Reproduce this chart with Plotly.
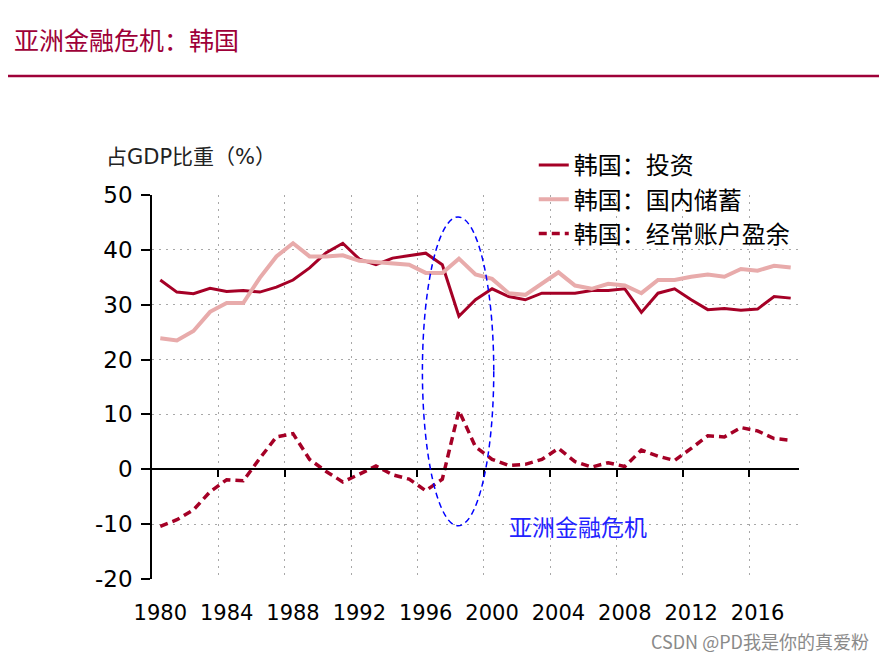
import plotly.graph_objects as go

years = list(range(1980, 2019))
investment = [34.5, 32.3, 32.0, 33.0, 32.4, 32.6, 32.3, 33.2, 34.5, 36.7,
              39.5, 41.2, 38.3, 37.3, 38.5, 39.0, 39.4, 37.3, 27.9, 30.9,
              32.9, 31.5, 30.9, 32.1, 32.1, 32.1, 32.6, 32.6, 32.9, 28.6,
              32.1, 32.9, 30.9, 29.1, 29.3, 29.0, 29.2, 31.5, 31.2]
saving = [23.9, 23.5, 25.2, 28.7, 30.3, 30.3, 34.9, 38.8, 41.2, 38.8,
          38.8, 39.0, 38.0, 37.8, 37.6, 37.3, 35.8, 35.8, 38.4, 35.5,
          34.7, 32.1, 31.8, 33.8, 35.9, 33.5, 32.9, 33.8, 33.5, 32.1,
          34.5, 34.5, 35.1, 35.5, 35.1, 36.5, 36.2, 37.1, 36.8]
current_account = [-10.4, -9.2, -7.4, -4.1, -1.9, -2.1, 2.0, 5.9, 6.5, 1.8,
                   -0.4, -2.3, -0.9, 0.6, -1.0, -1.8, -3.9, -1.8, 10.7, 4.1,
                   1.8, 0.7, 0.9, 1.8, 3.8, 1.4, 0.4, 1.2, 0.5, 3.5,
                   2.4, 1.6, 3.8, 6.1, 5.9, 7.6, 7.0, 5.6, 5.3]
label_years = list(range(1980, 2017, 4))
boundary_years = [y - 0.5 for y in range(1984, 2017, 4)]
series_names = ["韩国：投资", "韩国：国内储蓄", "韩国：经常账户盈余"]
y_ticks = list(range(-20, 51, 10))
y_tick_text = ["-20", "-10", "0", "10", "20", "30", "40", "50"]

DARK = "#A50026"
PINK = "#E8ABAB"
TITLE_C = "#9E0038"
CJK = "Noto Sans CJK SC"
LAT = "DejaVu Sans"
MIX = "DejaVu Sans, Noto Sans CJK SC"

# page body has an 8px margin; lay out in window pixels
OFF = 8
W, H = 887 - OFF, 664 - OFF
PL, PT, PR, PB = 152, 195, 799.4, 579          # plot box in window pixels
L, T = PL - OFF, PT - OFF
R, B = W - (PR - OFF), H - (PB - OFF)
pw, ph = PR - PL, PB - PT

def px(x):
    return (x - PL) / pw

def py(y):
    return (PB - y) / ph

fig = go.Figure()
fig.add_trace(go.Scatter(x=years, y=investment, name=series_names[0], mode="lines",
                         line=dict(color=DARK, width=3), legendgroup="a"))
fig.add_trace(go.Scatter(x=years, y=saving, name=series_names[1], mode="lines",
                         line=dict(color=PINK, width=4), legendgroup="b"))
fig.add_trace(go.Scatter(x=years, y=current_account, name=series_names[2], mode="lines",
                         line=dict(color=DARK, width=3.5, dash="8px,5px"), legendgroup="c",
                         xaxis="x2", yaxis="y"))

# the crisis ellipse (on data axes)
fig.add_shape(type="circle", xref="x", yref="y", x0=1995.8, x1=2000.1, y0=-10.3, y1=46,
              line=dict(color="#0000FF", width=1.5, dash="6px,4px"), layer="above")
fig.add_annotation(x=2005.2, y=-10.4, xref="x", yref="y", text="亚洲金融危机",
                   showarrow=False, font=dict(family=CJK, size=23, color="#2222FF"))

# title + rule
fig.add_annotation(x=px(12), y=py(39), xref="paper", yref="paper", xanchor="left", yanchor="middle",
                   text="亚洲金融危机：韩国", showarrow=False,
                   font=dict(family=CJK, size=25, color=TITLE_C))
fig.add_shape(type="line", xref="paper", yref="paper", x0=px(4), x1=px(900), y0=py(76), y1=py(76),
              line=dict(color=TITLE_C, width=2.5))
# y axis title
fig.add_annotation(x=px(104), y=py(157), xref="paper", yref="paper", xanchor="left", yanchor="middle",
                   text="占GDP比重（%）", showarrow=False,
                   font=dict(family=MIX, size=21, color="#222222"))
# watermark
fig.add_annotation(x=px(871), y=py(641), xref="paper", yref="paper", xanchor="right", yanchor="middle",
                   text="CSDN @PD我是你的真爱粉", showarrow=False,
                   font=dict(family=CJK, size=18, color="#8a8a8a"))

grid = dict(gridcolor="#a8a8a8", griddash="2px,5px", gridwidth=1)

fig.update_layout(
    width=W, height=H,
    margin=dict(l=L, r=R, t=T, b=B, pad=0, autoexpand=False),
    paper_bgcolor="white", plot_bgcolor="white",
    showlegend=True,
    legend=dict(x=px(534), y=py(143), xanchor="left", yanchor="top",
                font=dict(family=CJK, size=24, color="black"),
                tracegroupgap=11, bgcolor="rgba(0,0,0,0)", traceorder="normal"),
    xaxis=dict(range=[1979.5, 2018.5], tickmode="array", tickvals=label_years,
               ticktext=[str(v) for v in label_years], ticks="", showgrid=False,
               showline=False, zeroline=False, ticklabelstandoff=19, automargin=False,
               tickfont=dict(family=LAT, size=21, color="black")),
    xaxis2=dict(range=[1979.5, 2018.5], overlaying="x", anchor="free", position=2 / 7,
                side="bottom", tickmode="array", tickvals=boundary_years,
                ticks="outside", ticklen=7, tickwidth=1.5, tickcolor="black",
                showticklabels=False, showgrid=True, showline=True, automargin=False,
                linecolor="black", linewidth=1.5, zeroline=False, **grid),
    yaxis=dict(range=[-20, 50], tickmode="array", tickvals=y_ticks, ticktext=y_tick_text,
               ticks="outside", ticklen=9, tickwidth=1.5, tickcolor="black", showline=True,
               linecolor="black", linewidth=1.5, zeroline=False, showgrid=True,
               ticklabelstandoff=4, automargin=False,
               tickfont=dict(family=LAT, size=23, color="black"), **grid),
)

fig.write_html("out.html")
